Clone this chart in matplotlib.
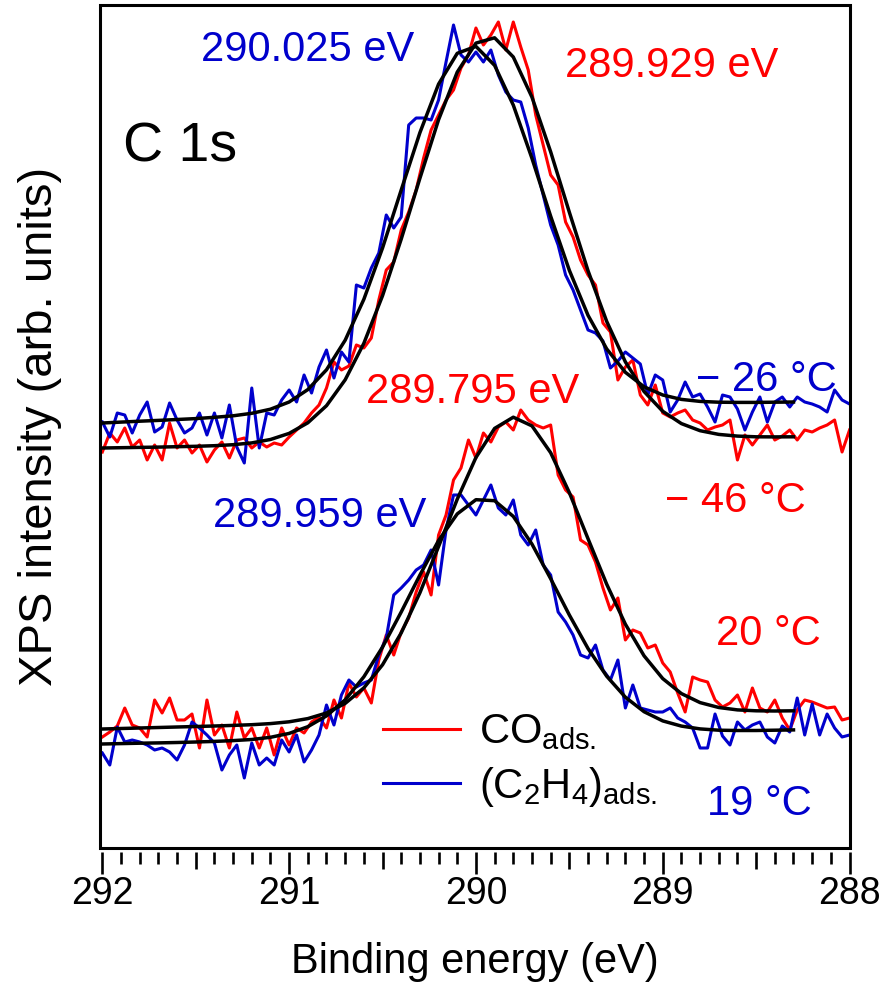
import numpy as np
import matplotlib
matplotlib.use("Agg")
import matplotlib.pyplot as plt
from matplotlib.lines import Line2D
from matplotlib.patches import Rectangle
from matplotlib.ticker import MultipleLocator

plt.rcParams['font.family'] = ['Liberation Sans', 'DejaVu Sans']
plt.rcParams['mathtext.fontset'] = 'custom'
plt.rcParams['mathtext.rm'] = 'Liberation Sans'

RED = '#ff0000'
BLUE = '#0000cc'

# binding energy grid of the measured spectra (eV)
energy = np.linspace(292.0, 288.0, 101)

# C 1s spectra, arb. units (stacked as in the figure)
c2h4_m26 = [424, 409, 433, 431, 413, 431, 444, 414, 419, 443,
            426, 413, 418, 433, 411, 433, 408, 441, 399, 383,
            458, 398, 433, 431, 446, 456, 444, 471, 453, 479,
            496, 468, 494, 484, 561, 558, 578, 593, 631, 618,
            629, 721, 728, 728, 726, 746, 784, 821, 791, 784,
            794, 784, 796, 771, 754, 746, 744, 718, 681, 651,
            621, 601, 571, 556, 536, 516, 513, 505, 478, 485,
            494, 488, 482, 451, 471, 466, 434, 446, 464, 449,
            452, 439, 424, 451, 449, 437, 416, 434, 449, 424,
            444, 449, 439, 449, 444, 442, 439, 434, 456, 446,
            442]
co_m46 = [394, 413, 404, 418, 399, 406, 386, 401, 386, 423,
          398, 406, 393, 401, 384, 396, 404, 388, 406, 408,
          398, 404, 399, 403, 401, 409, 416, 423, 433, 441,
          458, 484, 476, 480, 501, 498, 508, 546, 576, 584,
          616, 634, 656, 688, 716, 731, 746, 756, 778, 791,
          818, 801, 811, 824, 796, 824, 799, 776, 731, 701,
          671, 661, 624, 609, 586, 571, 561, 523, 514, 466,
          479, 486, 451, 441, 461, 433, 429, 433, 436, 426,
          423, 416, 419, 421, 426, 386, 411, 401, 411, 421,
          406, 410, 416, 406, 416, 414, 418, 421, 426, 394,
          416]
co_20 = [109, 114, 120, 138, 121, 118, 109, 146, 133, 148,
         126, 126, 132, 98, 146, 111, 121, 98, 134, 108,
         118, 98, 118, 91, 118, 101, 118, 113, 124, 129,
         118, 146, 128, 163, 149, 158, 143, 186, 211, 191,
         214, 228, 254, 274, 251, 311, 331, 366, 378, 406,
         388, 413, 404, 419, 424, 416, 436, 426, 421, 418,
         421, 371, 356, 349, 306, 301, 284, 258, 236, 248,
         206, 216, 213, 198, 201, 183, 174, 153, 134, 169,
         166, 164, 146, 139, 143, 151, 134, 158, 138, 134,
         146, 128, 116, 136, 146, 144, 141, 138, 139, 126,
         128]
c2h4_19 = [93, 81, 119, 104, 106, 104, 101, 96, 98, 94,
           86, 101, 124, 118, 111, 103, 76, 91, 101, 68,
           103, 81, 88, 81, 106, 94, 111, 84, 96, 111,
           141, 121, 151, 166, 159, 163, 166, 191, 208, 251,
           258, 266, 276, 281, 296, 261, 316, 351, 351, 341,
           331, 346, 361, 338, 331, 346, 311, 301, 316, 281,
           271, 234, 224, 211, 191, 188, 201, 176, 166, 186,
           138, 161, 138, 136, 134, 134, 138, 128, 124, 118,
           98, 98, 132, 110, 101, 124, 116, 121, 124, 109,
           103, 120, 114, 148, 111, 142, 111, 132, 118, 109,
           111]

# fitted peaks
fit_energy = np.linspace(292.0, 288.3, 38)
fit_c2h4_m26 = [423.0, 423.9, 424.8, 425.6, 426.5, 427.4, 428.7, 430.2, 432.7, 436.8,
                444.0, 456.4, 476.2, 505.8, 546.7, 598.0, 656.0, 713.3, 761.9, 792.7,
                799.6, 780.6, 740.9, 687.6, 629.8, 575.7, 530.7, 497.1, 473.7, 459.2,
                451.0, 446.6, 444.6, 443.8, 443.6, 443.6, 443.8, 444.0]
fit_co_m46 = [398.0, 398.3, 398.6, 398.9, 399.3, 399.7, 400.3, 401.3, 403.1, 406.5,
              412.6, 423.2, 440.3, 466.2, 502.7, 550.3, 606.9, 667.7, 726.3, 773.9,
              802.9, 808.2, 789.0, 748.8, 694.2, 633.8, 575.3, 524.6, 484.1, 454.5,
              434.7, 422.4, 415.3, 411.6, 409.9, 409.2, 409.1, 409.2]
fit_co_20 = [117.0, 117.5, 118.0, 118.5, 119.0, 119.5, 120.0, 120.6, 121.3, 122.4,
             124.2, 127.4, 133.0, 142.6, 158.1, 181.2, 213.1, 253.2, 299.5, 346.8,
             388.5, 417.6, 428.8, 420.1, 393.3, 353.4, 307.3, 261.8, 221.8, 190.2,
             167.4, 152.4, 143.4, 138.5, 136.1, 135.2, 135.0, 135.2]
fit_c2h4_19 = [102.0, 102.4, 102.8, 103.1, 103.5, 104.0, 104.6, 105.4, 106.5, 108.7,
               112.6, 119.3, 130.1, 146.2, 169.2, 198.9, 234.0, 270.9, 305.5, 332.1,
               346.3, 345.3, 329.6, 301.9, 267.3, 231.0, 197.5, 169.8, 148.8, 134.3,
               125.1, 119.9, 117.1, 115.8, 115.5, 115.5, 115.8, 116.1]

fig = plt.figure(figsize=(8.81, 9.85), dpi=100)
ax = fig.add_axes([100 / 881, 1 - 848 / 985, 750 / 881, 843 / 985])

lw = 2.2
ax.plot(energy, co_m46, color=RED, lw=lw)
ax.plot(energy, co_20, color=RED, lw=lw)
ax.plot(energy, c2h4_m26, color=BLUE, lw=lw)
ax.plot(energy, c2h4_19, color=BLUE, lw=lw)
for f in [fit_c2h4_m26, fit_co_m46, fit_co_20, fit_c2h4_19]:
    ax.plot(fit_energy, f, color='black', lw=2.5)

ax.set_xlim(292.0125, 287.9975)
ax.set_ylim(-2, 841)

# frame drawn separately so the ticks can sit slightly below it
for s in ax.spines.values():
    s.set_visible(False)
ax.spines['bottom'].set_position(('outward', 3))
ax.add_patch(Rectangle((0, 0), 1, 1, transform=ax.transAxes, fill=False,
                       lw=2.2, color='black', clip_on=False, zorder=5))

ax.xaxis.set_major_locator(MultipleLocator(1))
ax.xaxis.set_minor_locator(MultipleLocator(0.1))
ax.tick_params(axis='x', which='major', direction='out', length=16, width=1.9,
               labelsize=27, pad=1)
ax.tick_params(axis='x', which='minor', direction='out', length=8.5, width=1.9)
ax.tick_params(axis='y', which='both', left=False, labelleft=False)
locs = ax.xaxis.get_minorticklocs()
for t, loc in zip(ax.xaxis.get_minor_ticks(len(locs)), locs):
    if abs(loc * 2 - round(loc * 2)) < 1e-6:
        t.tick1line.set_markersize(12)

ax.set_xlabel('Binding energy (eV)', fontsize=30, labelpad=22)
ax.set_ylabel('XPS intensity (arb. units)', fontsize=34, labelpad=27)

ax.text(291.584, 698, 'C 1s', fontsize=40, ha='center', va='center')
ax.text(290.899, 796, '290.025 eV', color=BLUE, fontsize=30, ha='center', va='center')
ax.text(288.950, 780, '289.929 eV', color=RED, fontsize=30, ha='center', va='center')
ax.text(288.447, 466, '\u2212 26 °C', color=BLUE, fontsize=30, ha='center', va='center')
ax.text(290.016, 454, '289.795 eV', color=RED, fontsize=30, ha='center', va='center')
ax.text(288.613, 345, '\u2212 46 °C', color=RED, fontsize=30, ha='center', va='center')
ax.text(290.835, 330, '289.959 eV', color=BLUE, fontsize=30, ha='center', va='center')
ax.text(288.437, 212, '20 °C', color=RED, fontsize=30, ha='center', va='center')
ax.text(288.480, 42, '19 °C', color=BLUE, fontsize=30, ha='center', va='center')

handles = [Line2D([], [], color=RED, lw=lw), Line2D([], [], color=BLUE, lw=lw)]
labels = [r'CO$_\mathregular{ads.}$', r'(C$_\mathregular{2}$H$_\mathregular{4}$)$_\mathregular{ads.}$']
ax.legend(handles, labels, loc='upper left', bbox_to_anchor=(0.377, 0.161),
          frameon=False, fontsize=30, handlelength=1.85, handletextpad=0.45,
          labelspacing=0.3, borderpad=0, borderaxespad=0)

fig.savefig('out.png', dpi=100)
